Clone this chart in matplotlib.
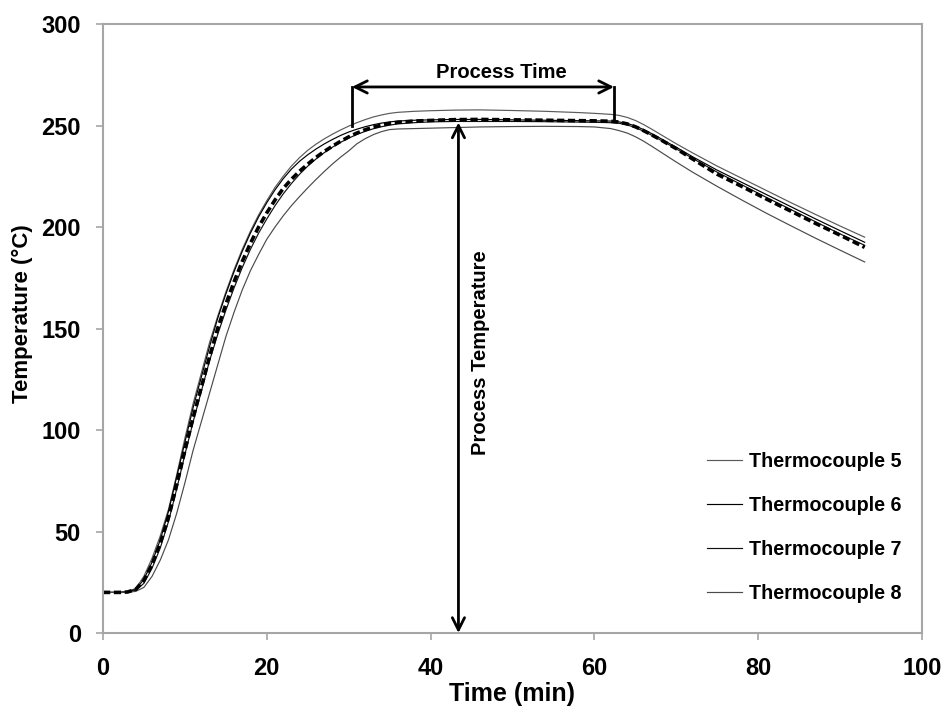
import numpy as np
import matplotlib
matplotlib.use("Agg")
import matplotlib.pyplot as plt

plt.rcParams["font.family"] = ["Liberation Sans", "DejaVu Sans"]
plt.rcParams["font.weight"] = "bold"

# time stamps (min) shared by all thermocouple logs
time = [0, 2, 3, 4, 5, 6, 7, 8, 9, 10, 11, 12, 13, 14, 15, 16, 17, 18, 19, 20,
        21, 22, 23, 24, 25, 26, 27, 28, 29, 30, 31, 32, 33, 34, 35, 36,
        38, 40, 43, 46, 50, 54, 58, 60, 62, 63, 64, 65, 66, 67, 68, 69, 70,
        72, 75, 78, 81, 84, 87, 90, 93]

tc5 = [20, 20, 20.4, 22, 28, 37, 48, 61, 78, 96, 113, 128, 143, 156, 168, 179, 189, 198, 206, 213,
       219.5, 225, 230, 234.2, 237.8, 240.8, 243.4, 245.7, 247.8, 249.7, 251.4, 252.9, 254.2, 255.2, 256, 256.5,
       257, 257.3, 257.6, 257.7, 257.4, 257, 256.4, 256, 255.5, 255, 254, 252.5, 250.5, 248.2, 245.8, 243.4, 241,
       236.5, 230, 224, 218, 212, 206.2, 200.5, 195]
tc6 = [20, 20, 20.3, 21.5, 26.5, 35, 46, 60, 77, 94, 111, 126, 141, 155, 167, 178, 188, 197, 205, 212,
       218.3, 223.8, 228.5, 232.4, 235.6, 238.4, 240.9, 243.1, 245.1, 246.8, 248.2, 249.4, 250.4, 251.2, 251.8, 252.2,
       252.6, 252.8, 253, 253, 252.8, 252.6, 252.4, 252.3, 252.2, 251.8, 251, 249.8, 248, 246, 243.8, 241.5, 239.3,
       234.6, 228, 222, 216, 210, 204, 198.2, 192.5]
tc7 = [20, 20, 20.2, 21, 24.5, 32, 42, 55, 71, 88, 104, 119, 134, 147, 159, 170, 180, 189, 197, 204,
       210.5, 216.3, 221.4, 226, 230, 233.5, 236.6, 239.3, 241.7, 243.8, 245.6, 247.1, 248.4, 249.4, 250.2, 250.8,
       251.4, 251.8, 252, 252, 252, 251.9, 251.7, 251.6, 251.4, 251.1, 250.3, 249, 247.2, 245.2, 243, 240.8, 238.5,
       233.8, 227, 220.8, 214.6, 208.6, 202.6, 196.6, 191]
tc8 = [20, 20, 20.1, 20.5, 22.5, 28, 36, 46, 59, 74, 90, 104, 118, 132, 146, 158, 169, 178.5, 186.5, 194,
       200, 205.5, 210.5, 215, 219.3, 223.4, 227.3, 231, 234.4, 237.5, 241, 243.5, 245.5, 247, 248, 248.3,
       248.5, 248.7, 249, 249.3, 249.5, 249.6, 249.5, 249.3, 248.5, 247.5, 246.3, 244.5, 242.3, 239.8, 237.2, 234.6, 232,
       227, 220, 213.3, 206.8, 200.6, 194.5, 188.6, 182.8]
average = [20, 20, 20.2, 21.5, 26, 34, 44.5, 57, 73, 90, 106, 121, 136, 150, 162, 173, 183, 192, 200, 207,
           213.3, 219, 223.5, 227.5, 231, 234.3, 237.2, 239.8, 242.2, 244.4, 246.3, 247.9, 249.2, 250.2, 251, 251.6,
           252.2, 252.5, 252.9, 253, 252.8, 252.6, 252.4, 252.3, 252.1, 251.7, 250.8, 249.4, 247.5, 245.4, 243.2, 240.9, 238.6,
           233.5, 226, 220, 213.8, 207.8, 201.8, 196, 190]

labels = ["Thermocouple 5", "Thermocouple 6", "Thermocouple 7", "Thermocouple 8"]
series = [tc5, tc6, tc7, tc8]
colors = ["#5a5a5a", "#000000", "#111111", "#4a4a4a"]

process_start, process_end = 30.4, 62.4
bracket_level = 269
bracket_ends = [250, 252.5]
process_temp_time = 43.4
process_temp = 251.5

fig = plt.figure(figsize=(9.46, 7.09), dpi=100)
ax = fig.add_axes([0.1089, 0.1072, 0.8657, 0.8589])

for vals, lab, c in zip(series, labels, colors):
    ax.plot(time, vals, color=c, lw=0.85, label=lab)
ax.plot(time, average, color="black", lw=2.6, ls=(0, (2.0, 1.0)))

# process time bracket
ax.annotate("", xy=(process_start, bracket_level), xytext=(process_end, bracket_level),
            arrowprops=dict(arrowstyle="<->", lw=2, color="black", mutation_scale=22,
                            shrinkA=0, shrinkB=0))
ax.plot([process_start, process_start], [bracket_level, bracket_ends[0]], color="black", lw=2)
ax.plot([process_end, process_end], [bracket_level, bracket_ends[1]], color="black", lw=2)
ax.text(48.7, 276, "Process Time", ha="center", va="center",
        fontsize=14.5, fontweight="bold")

# process temperature arrow
ax.annotate("", xy=(process_temp_time, process_temp), xytext=(process_temp_time, 0),
            arrowprops=dict(arrowstyle="<->", lw=2, color="black", mutation_scale=22,
                            shrinkA=0, shrinkB=0))
ax.text(process_temp_time + 2.7, 138, "Process Temperature", rotation=90, ha="center", va="center",
        fontsize=14.5, fontweight="bold")

ax.set_xlim(0, 100)
ax.set_ylim(0, 300)
ax.set_xticks(range(0, 101, 20))
ax.set_yticks(range(0, 301, 50))
for sp in ax.spines.values():
    sp.set_color("#a6a6a6")
    sp.set_linewidth(1.5)
ax.tick_params(direction="out", length=5, width=1.2, color="#a6a6a6", labelsize=17)
ax.tick_params(axis="y", pad=11)
ax.tick_params(axis="x", pad=12)
ax.set_xlabel("Time (min)", fontsize=18, fontweight="bold", labelpad=2)
ax.set_ylabel("Temperature (°C)", fontsize=16, fontweight="bold", labelpad=5)
ax.yaxis.set_label_coords(-0.0855, 0.525)

ax.legend(loc="lower right", bbox_to_anchor=(0.997, 0.02), frameon=False, fontsize=14.2,
          handlelength=1.8, handletextpad=0.35, labelspacing=1.27)

fig.savefig("out.png", dpi=100)
